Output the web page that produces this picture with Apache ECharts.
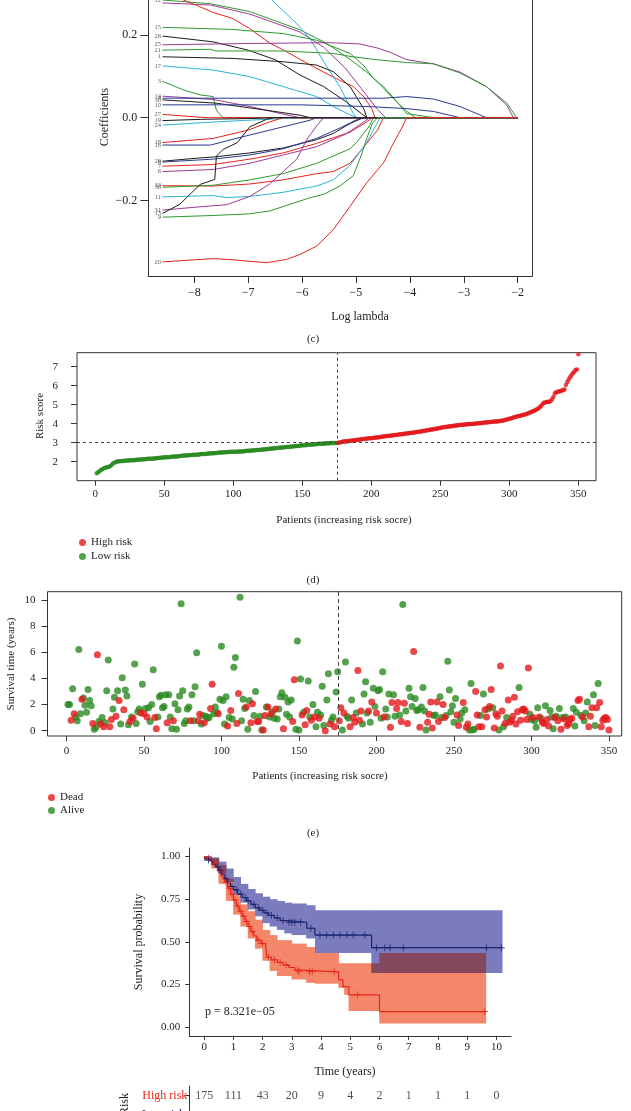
<!DOCTYPE html>
<html><head><meta charset="utf-8">
<script src="https://cdn.jsdelivr.net/npm/echarts@6/dist/echarts.min.js"></script>
<style>html,body{margin:0;padding:0;background:#fff}#c{width:631px;height:1111px}</style>
</head><body><div id="c"></div>
<script>
// ---------------- Panel (c): LASSO coefficient paths ----------------
const lassoLabels = ['12','','','','15','26','25','21','1','17','3','14','4','30','10','27','19','24','18','16','29','8','7','6','33','38','11','31','13','9','20'];
const lassoPaths = [
 [[-8.59,0.284],[-7.7,0.275],[-6.97,0.256],[-6.04,0.212],[-5.55,0.18],[-5.05,0.135],[-4.8,0.11],[-4.55,0.08],[-4.3,0.045],[-4.05,0.015],[-3.9,0]],
 [[-8.59,0.277],[-7.7,0.272],[-6.97,0.25],[-6.04,0.207],[-5.6,0.17],[-5.2,0.12],[-4.9,0.07],[-4.6,0.02],[-4.45,0]],
 [[-8.59,0.30],[-8.2,0.284],[-7.9,0.268],[-7.65,0.254],[-7.3,0.24],[-6.97,0.215],[-6.6,0.18],[-6.3,0.16],[-6.0,0.138],[-5.6,0.11],[-5.3,0.09],[-5.05,0.075],[-4.85,0.05],[-4.7,0.02],[-4.65,0]],
 [[-8.59,0.42],[-7.5,0.36],[-6.56,0.284],[-6.1,0.227],[-5.85,0.19],[-5.55,0.125],[-5.3,0.075],[-5.05,0.01],[-4.99,0]],
 [[-8.59,0.218],[-7.3,0.213],[-6.35,0.203],[-5.73,0.187],[-5.42,0.171],[-5.11,0.155],[-4.85,0.125],[-4.68,0.095],[-4.49,0.075],[-4.25,0.04],[-4.06,0.01],[-3.56,0]],
 [[-8.59,0.197],[-7.65,0.183],[-7.0,0.163],[-6.5,0.14],[-6.04,0.103],[-5.6,0.075],[-5.2,0.04],[-4.9,0.01],[-4.8,0]],
 [[-8.59,0.176],[-7.0,0.179],[-5.5,0.181],[-4.93,0.178],[-4.6,0.168],[-4.37,0.158],[-4.06,0.14],[-3.56,0.13],[-3.07,0.11],[-2.58,0.075],[-2.2,0.03],[-2.08,0]],
 [[-8.59,0.163],[-7.7,0.165],[-7.6,0.161],[-6.35,0.161],[-5.42,0.155],[-5.11,0.148],[-4.62,0.14],[-4.06,0.133],[-3.56,0.13],[-3.07,0.108],[-2.58,0.075],[-2.2,0.035],[-2.02,0]],
 [[-8.59,0.147],[-7.28,0.143],[-6.35,0.135],[-5.73,0.127],[-5.42,0.111],[-5.11,0.075],[-4.85,0.02],[-4.8,0]],
 [[-8.59,0.125],[-7.65,0.115],[-6.97,0.099],[-6.35,0.075],[-5.73,0.051],[-5.42,0.027],[-5.11,0.007],[-4.99,0]],
 [[-8.59,0.088],[-8.2,0.067],[-7.89,0.055],[-7.65,0.051],[-7.59,0.018],[-7.47,0]],
 [[-8.59,0.052],[-7.65,0.044],[-6.97,0.027],[-6.4,0.01],[-6.04,0]],
 [[-8.59,0.047],[-6.04,0.047],[-5.11,0.047],[-4.49,0.047],[-4.06,0.051],[-3.56,0.045],[-3.07,0.027],[-2.58,0]],
 [[-8.59,0.043],[-7.59,0.035],[-6.66,0.018],[-6.04,0.006],[-5.85,0]],
 [[-8.59,0.031],[-6.04,0.031],[-4.8,0.027],[-4.06,0.022],[-3.56,0.015],[-3.07,0]],
 [[-8.59,0.008],[-7.89,0.001],[-7.7,0]],
 [[-8.59,-0.007],[-7.89,-0.004],[-6.97,-0.002],[-6.53,0]],
 [[-8.59,-0.018],[-7.59,-0.010],[-6.66,-0.004],[-6.04,0]],
 [[-8.59,-0.060],[-7.65,-0.050],[-7.0,-0.030],[-6.6,-0.010],[-6.35,0]],
 [[-8.59,-0.066],[-7.7,-0.066],[-7.1,-0.046],[-6.35,-0.022],[-5.85,-0.006],[-5.73,0]],
 [[-8.59,-0.105],[-7.89,-0.097],[-7.65,-0.095],[-6.97,-0.085],[-6.35,-0.073],[-5.73,-0.053],[-5.42,-0.038],[-5.11,-0.014],[-4.86,0]],
 [[-8.59,-0.107],[-7.65,-0.10],[-6.97,-0.09],[-6.35,-0.075],[-5.73,-0.05],[-5.3,-0.025],[-4.99,-0.005],[-4.9,0]],
 [[-8.59,-0.117],[-7.65,-0.113],[-6.97,-0.1],[-6.35,-0.085],[-5.73,-0.062],[-5.11,-0.035],[-4.8,-0.01],[-4.7,0]],
 [[-8.59,-0.130],[-7.65,-0.125],[-6.97,-0.11],[-6.35,-0.09],[-5.73,-0.07],[-5.2,-0.04],[-4.85,-0.01],[-4.75,0]],
 [[-8.59,-0.164],[-7.65,-0.165],[-6.97,-0.16],[-6.35,-0.15],[-5.73,-0.135],[-5.42,-0.13],[-5.11,-0.11],[-4.85,-0.07],[-4.6,-0.03],[-4.49,0]],
 [[-8.59,-0.168],[-7.65,-0.163],[-6.97,-0.15],[-6.35,-0.135],[-5.73,-0.11],[-5.11,-0.075],[-4.99,-0.06],[-4.75,-0.02],[-4.68,0]],
 [[-8.59,-0.191],[-7.65,-0.188],[-7.4,-0.193],[-6.97,-0.19],[-6.35,-0.18],[-5.73,-0.165],[-5.42,-0.15],[-5.11,-0.115],[-4.8,-0.06],[-4.68,-0.03],[-4.55,0]],
 [[-8.59,-0.223],[-7.89,-0.215],[-7.4,-0.21],[-6.97,-0.19],[-6.6,-0.16],[-6.35,-0.13],[-6.1,-0.1],[-5.9,-0.05],[-5.73,-0.02],[-5.6,0]],
 [[-8.59,-0.231],[-8.27,-0.209],[-7.89,-0.161],[-7.62,-0.149],[-7.59,-0.093],[-7.47,-0.077],[-7.2,-0.060],[-6.97,-0.022],[-6.66,-0.004],[-6.53,0]],
 [[-8.59,-0.240],[-7.65,-0.236],[-6.97,-0.232],[-6.6,-0.225],[-6.2,-0.208],[-5.85,-0.193],[-5.6,-0.185],[-5.3,-0.165],[-5.05,-0.14],[-4.9,-0.09],[-4.8,-0.05],[-4.7,-0.015],[-4.6,0]],
 [[-8.59,-0.348],[-7.65,-0.340],[-7.28,-0.343],[-6.66,-0.35],[-6.29,-0.342],[-6.04,-0.33],[-5.73,-0.31],[-5.42,-0.27],[-5.11,-0.214],[-4.8,-0.157],[-4.49,-0.109],[-4.3,-0.06],[-4.15,-0.025],[-4.06,0]]
];
const lambdaMax = -2.0;
const lassoXTicks = [-8,-7,-6,-5,-4,-3,-2];
const lassoYTicks = [-0.2,0,0.2];

// ---------------- Panel (d): risk score ----------------
const riskScore = [
1.39,1.45,1.50,1.56,1.60,1.64,1.68,1.70,1.72,1.74,
1.78,1.85,1.92,1.96,1.99,2.01,2.02,2.03,2.04,2.04,
2.05,2.05,2.06,2.06,2.07,2.07,2.08,2.08,2.09,2.10,
2.10,2.11,2.12,2.12,2.13,2.13,2.14,2.15,2.15,2.16,
2.16,2.17,2.17,2.18,2.19,2.20,2.21,2.21,2.22,2.23,
2.23,2.24,2.24,2.25,2.26,2.26,2.27,2.28,2.28,2.29,
2.30,2.30,2.31,2.32,2.32,2.33,2.34,2.34,2.35,2.35,
2.36,2.36,2.37,2.37,2.38,2.39,2.40,2.40,2.41,2.41,
2.42,2.43,2.43,2.44,2.44,2.45,2.46,2.46,2.47,2.48,
2.49,2.49,2.50,2.50,2.50,2.51,2.51,2.52,2.52,2.52,
2.53,2.53,2.53,2.54,2.54,2.54,2.55,2.55,2.56,2.57,
2.57,2.58,2.59,2.59,2.60,2.60,2.61,2.62,2.62,2.63,
2.64,2.64,2.65,2.66,2.67,2.68,2.68,2.69,2.70,2.71,
2.72,2.72,2.73,2.74,2.75,2.75,2.76,2.77,2.78,2.78,
2.79,2.80,2.80,2.81,2.82,2.83,2.83,2.84,2.85,2.86,
2.86,2.87,2.88,2.88,2.89,2.90,2.90,2.91,2.92,2.92,
2.93,2.94,2.94,2.95,2.95,2.96,2.96,2.97,2.97,2.97,
2.98,2.98,2.98,2.99,2.99,3.00,3.01,3.03,3.05,3.06,
3.06,3.07,3.08,3.09,3.10,3.11,3.12,3.13,3.14,3.15,
3.16,3.17,3.18,3.19,3.20,3.21,3.22,3.23,3.23,3.24,
3.25,3.26,3.27,3.28,3.29,3.29,3.30,3.32,3.33,3.34,
3.35,3.35,3.36,3.37,3.38,3.39,3.40,3.41,3.42,3.43,
3.44,3.45,3.46,3.47,3.48,3.49,3.50,3.51,3.52,3.53,
3.54,3.55,3.56,3.57,3.58,3.59,3.61,3.62,3.63,3.65,
3.66,3.67,3.69,3.70,3.71,3.72,3.74,3.75,3.77,3.78,
3.80,3.81,3.82,3.83,3.84,3.85,3.86,3.87,3.88,3.89,
3.90,3.91,3.92,3.93,3.94,3.95,3.95,3.96,3.97,3.97,
3.98,3.98,3.99,4.00,4.00,4.01,4.02,4.03,4.03,4.04,
4.05,4.06,4.06,4.07,4.08,4.09,4.09,4.10,4.11,4.12,
4.12,4.13,4.14,4.15,4.16,4.18,4.20,4.22,4.24,4.26,
4.28,4.30,4.33,4.35,4.37,4.39,4.41,4.42,4.44,4.46,
4.48,4.50,4.53,4.56,4.59,4.62,4.65,4.68,4.72,4.76,
4.80,4.86,4.93,5.02,5.10,5.12,5.14,5.15,5.16,5.20,
5.30,5.42,5.60,5.65,5.68,5.70,5.72,5.74,5.77,5.80,
6.04,6.20,6.33,6.45,6.55,6.65,6.72,6.82,6.85,7.65];
const lowRiskCount = 175;
const riskCutScore = 2.995;
const patientTicks = [0,50,100,150,200,250,300,350];
const riskYTicks = [2,3,4,5,6,7];

// ---------------- Panel (e): survival time & status (1 = dead) ----------------
const survTime = [
2.0,2.0,0.8,3.2,1.3,1.05,0.75,6.2,1.3,2.4,
2.5,1.95,1.4,3.15,2.3,1.9,0.55,0.1,0.25,5.8,
0.7,0.5,1.0,0.3,0.6,3.05,5.4,0.3,0.85,1.65,
2.55,1.1,3.05,2.3,0.5,4.05,1.6,3.1,2.65,0.45,
0.7,1.05,0.95,5.1,0.55,1.45,1.65,1.35,3.55,1.3,
1.7,1.05,1.75,0.7,2.0,4.65,1.0,0.15,1.05,2.6,
2.7,1.75,1.85,2.75,0.6,2.75,1.05,0.15,0.75,2.05,
0.1,1.6,2.65,9.7,3.05,0.55,0.75,1.65,1.8,0.75,
2.75,0.75,3.35,5.95,0.75,1.25,0.5,1.15,0.6,1.1,
0.95,1.0,1.7,3.55,1.3,1.8,1.4,1.3,2.4,6.45,
2.3,0.5,2.6,0.35,1.0,1.55,0.9,4.85,5.6,0.55,
2.85,10.2,0.75,2.4,1.7,1.8,0.1,2.3,0.6,2.05,
1.15,3.0,0.7,0.7,1.1,0.05,0.05,1.15,1.8,1.8,
1.05,1.3,1.45,0.95,1.65,0.9,1.65,2.6,2.9,0.15,
2.55,1.25,2.2,1.05,2.35,0.7,3.9,0.1,6.85,0.05,
3.95,1.2,1.4,0.45,1.55,3.8,1.05,0.8,2.0,1.05,
0.3,1.4,0.95,1.2,3.4,0.4,0.0,2.35,4.35,0.5,
0.8,1.05,0.3,2.95,4.5,0.75,1.75,0.05,1.35,5.25,
1.1,0.95,0.3,2.35,1.0,0.65,1.35,4.6,0.8,1.5,
0.5,2.8,3.75,1.35,1.5,0.65,2.2,3.25,1.85,1.35,
3.05,3.15,0.95,4.5,1.05,1.65,1.05,2.8,0.25,2.15,
2.75,1.1,1.7,2.15,1.2,0.7,9.65,2.1,1.5,0.55,
3.25,2.6,1.85,6.05,2.45,1.55,1.6,0.25,1.8,3.3,
1.5,0.05,0.65,1.25,2.2,0.2,1.15,1.2,2.2,0.7,
2.6,1.0,2.0,1.0,1.15,5.3,3.1,1.45,1.9,0.65,
2.45,1.2,0.4,0.9,1.35,2.15,1.6,0.25,0.5,0.05,
3.6,0.05,0.1,3.0,1.2,0.3,1.15,0.3,2.8,1.6,
1.05,1.65,1.85,3.15,1.75,0.2,1.3,1.1,0.05,4.95,
1.5,0.3,0.55,1.0,2.35,0.65,0.8,1.1,2.55,0.5,
1.45,3.3,0.8,1.6,1.65,1.5,0.85,4.8,1.25,0.85,
1.0,0.75,0.25,1.75,1.05,0.95,0.65,0.55,1.9,0.85,
0.35,1.55,1.05,0.15,1.0,1.1,0.75,1.7,0.1,1.0,
0.9,1.05,0.4,0.55,0.85,0.95,1.7,0.35,1.4,2.3,
2.4,1.15,1.05,0.75,1.35,2.2,0.3,1.1,1.75,2.75,
0.4,1.75,3.6,2.15,0.3,0.8,0.95,1.0,0.85,0.05];
const survStatus = [
0,0,1,0,1,0,0,0,0,1, 0,0,0,0,0,0,1,0,0,1, 0,1,0,1,0,0,0,1,1,0, 0,1,0,1,0,0,1,0,0,0,
1,0,1,0,0,0,0,1,0,1, 0,1,0,0,0,0,1,1,0,0, 0,0,0,0,1,0,0,0,1,0, 0,0,0,0,0,0,0,0,0,1,
0,0,0,0,1,1,0,0,1,0, 0,0,1,1,0,0,0,1,0,0, 0,0,0,1,0,1,0,0,0,1, 1,0,0,0,0,1,0,0,1,1,
0,0,1,1,0,0,1,1,0,1, 0,1,0,0,1,0,0,0,0,1, 0,0,0,0,0,1,1,0,0,0, 0,1,0,1,1,0,0,1,0,1,
0,0,1,0,0,0,1,0,0,1, 0,0,1,0,0,1,1,0,1,0, 0,0,1,0,1,1,0,1,1,1, 0,0,0,0,1,0,1,0,0,1,
0,0,0,0,1,0,0,0,1,1, 0,0,1,1,0,1,0,1,0,1, 0,0,0,1,0,0,0,1,0,0, 0,0,1,1,1,1,0,0,1,1,
0,0,1,1,0,0,0,0,0,0, 0,1,1,0,0,1,0,1,1,0, 0,0,0,1,1,1,0,1,0,1, 1,0,1,1,0,1,1,1,0,1,
1,0,1,0,1,1,1,1,1,1, 1,0,1,1,1,1,1,1,0,0, 1,0,0,0,1,0,1,1,0,1, 1,0,0,0,1,0,1,0,1,0,
1,0,1,1,1,1,0,0,0,1, 1,0,1,0,0,0,1,1,1,0, 0,1,0,1,1,1,1,1,1,1];
const survYTicks = [0,2,4,6,8,10];
const survCutIndex = 175.5;

// ---------------- Panel (f): Kaplan-Meier ----------------
const kmHighT = [0,0.1,0.2,0.3,0.4,0.5,0.6,0.7,0.8,0.9,1.0,1.1,1.2,1.3,1.4,1.5,1.6,1.7,1.8,1.95,2.1,2.15,2.3,2.5,2.7,2.9,3.1,3.3,4.6,4.75,4.95,6.0];
const kmHighS = [1.0,0.99,0.975,0.96,0.94,0.915,0.885,0.85,0.815,0.78,0.745,0.71,0.68,0.65,0.62,0.59,0.56,0.535,0.51,0.49,0.475,0.41,0.395,0.38,0.365,0.35,0.335,0.325,0.278,0.238,0.19,0.092];
const kmHighEnd = 9.64;
const kmLowT = [0,0.1,0.2,0.3,0.4,0.5,0.6,0.7,0.8,0.9,1.0,1.15,1.3,1.45,1.6,1.75,1.9,2.05,2.2,2.4,2.6,2.85,3.51,3.79,5.73];
const kmLowS = [0.99,0.98,0.97,0.955,0.94,0.92,0.895,0.87,0.845,0.825,0.805,0.78,0.76,0.74,0.72,0.70,0.685,0.67,0.655,0.64,0.625,0.615,0.58,0.54,0.466];
const kmLowEnd = 10.2;
const ciHighT  = [0,0.25,0.5,0.75,1.0,1.25,1.5,1.75,2.0,2.25,2.5,3.0,3.5,3.8,4.6,4.8,4.95,6.0];
const ciHighLo = [0.985,0.93,0.84,0.74,0.66,0.59,0.52,0.46,0.39,0.33,0.30,0.28,0.26,0.255,0.23,0.19,0.095,0.022];
const ciHighUp = [1.0,0.99,0.95,0.87,0.775,0.72,0.68,0.63,0.57,0.54,0.51,0.49,0.47,0.435,0.375,0.375,0.375,0.435];
const ciLowT  = [0,0.25,0.5,0.75,1.0,1.25,1.5,1.75,2.0,2.25,2.5,2.75,3.0,3.5,3.8,5.73];
const ciLowLo = [0.975,0.95,0.90,0.85,0.775,0.73,0.69,0.65,0.61,0.59,0.57,0.55,0.54,0.52,0.435,0.318];
const ciLowUp = [1.0,0.995,0.97,0.93,0.88,0.84,0.81,0.785,0.765,0.75,0.74,0.73,0.725,0.715,0.685,0.685];
const censorHigh = [[0.15,0.99],[0.35,0.96],[0.55,0.915],[0.65,0.885],[0.75,0.85],[0.85,0.815],[0.95,0.78],[1.05,0.745],[1.15,0.71],[1.25,0.68],[1.35,0.65],[1.45,0.62],[1.55,0.59],[1.65,0.56],[1.85,0.51],[2.0,0.49],[2.2,0.41],[2.4,0.395],[2.6,0.38],[2.8,0.365],[3.2,0.335],[3.25,0.325],[3.6,0.325],[3.7,0.325],[4.45,0.325],[5.25,0.19],[9.6,0.092]];
const censorLow = [[0.15,0.98],[0.45,0.94],[0.55,0.92],[0.75,0.87],[0.95,0.825],[1.1,0.805],[1.25,0.78],[1.4,0.76],[1.5,0.74],[1.7,0.72],[1.85,0.70],[2.0,0.685],[2.15,0.67],[2.3,0.655],[2.5,0.64],[2.7,0.625],[2.9,0.615],[3.0,0.615],[3.1,0.615],[3.3,0.615],[3.65,0.58],[3.96,0.54],[4.19,0.54],[4.42,0.54],[4.65,0.54],[4.88,0.54],[5.1,0.54],[5.5,0.54],[5.9,0.466],[6.18,0.466],[6.36,0.466],[6.81,0.466],[9.66,0.466],[10.17,0.466]];
const kmYears = [0,1,2,3,4,5,6,7,8,9,10];
const kmYTicks = [0,0.25,0.5,0.75,1.0];
const riskTableHigh = [175,111,43,20,9,4,2,1,1,1,0];
const riskRowHigh = 1, riskRowLow = 0;
const pValueText = 'p = 8.321e\u221205';

// ---------------- styling ----------------
const SERIF = "'Liberation Serif','DejaVu Serif',serif";
const C_BLACK='#1c1c1c', C_RED='#e8231c', C_GREEN='#2e9a2e', C_NAVY='#2b3990', C_CYAN='#2ab4d9', C_PURPLE='#9e3a97';
const lassoColor = [C_GREEN,C_PURPLE,C_RED,C_CYAN,C_GREEN,C_BLACK,C_PURPLE,C_GREEN,C_BLACK,C_CYAN,C_GREEN,C_PURPLE,C_NAVY,C_BLACK,C_NAVY,C_RED,C_BLACK,C_CYAN,C_RED,C_NAVY,C_BLACK,C_NAVY,C_RED,C_PURPLE,C_RED,C_GREEN,C_CYAN,C_PURPLE,C_BLACK,C_GREEN,C_RED];
const PT_RED='#e3191c', PT_GREEN='#2b8a22';
const KM_RED='#e8281c', KM_NAVY='#1b2670', BAND_RED='#f4866a', BAND_BLUE='#7a7cbd', BAND_BOTH='#84485f';
const AX='#333';

const minus = s => String(s).replace('-', '\u2212');
function vAxis(grid, min, max, ticks, fmt, tickLen, margin, fs, extra) {
  return Object.assign({
    type:'value', gridIndex:grid, min:min, max:max, splitLine:{show:false},
    axisLine:{show:false, onZero:false},
    axisTick:{show:true, inside:false, length:tickLen, customValues:ticks, lineStyle:{color:AX,width:1}},
    axisLabel:{show:true, customValues:ticks, formatter:fmt, margin:margin, fontFamily:SERIF, fontSize:fs, color:'#222'}
  }, extra||{});
}
const LINE_ON = {axisLine:{show:true, onZero:false, lineStyle:{color:AX,width:1}}};

// panel c series
const series = [];
lassoPaths.forEach((p,k)=>{
  const d = p.slice();
  if (d[d.length-1][1] === 0 && d[d.length-1][0] < lambdaMax) d.push([lambdaMax,0]);
  series.push({type:'line', xAxisIndex:0, yAxisIndex:0, data:d, showSymbol:false, symbol:'none', silent:true,
    lineStyle:{color:lassoColor[k], width:1}, z:2});
});
series.push({type:'scatter', xAxisIndex:0, yAxisIndex:0, silent:true, symbolSize:1, itemStyle:{color:'rgba(0,0,0,0)'}, z:4,
  data: lassoPaths.map((p,k)=>({value:[p[0][0],p[0][1]], name:lassoLabels[k]})).filter(d=>d.name!==''),
  label:{show:true, position:'left', distance:1, formatter:p=>p.name, fontFamily:SERIF, fontSize:6.5, color:'#333'},
  labelLayout:{hideOverlap:false}});

// panel d
const lowPts = [], highPts = [];
riskScore.forEach((v,i)=>{ (i < lowRiskCount ? lowPts : highPts).push([i+1, v]); });
series.push({type:'scatter', name:'Low risk', xAxisIndex:1, yAxisIndex:1, data:lowPts, symbolSize:4.5, itemStyle:{color:PT_GREEN}, silent:true,
  markLine:{silent:true, symbol:'none', label:{show:false}, lineStyle:{type:[3,3], color:'#444', width:1},
    data:[{xAxis:lowRiskCount+0.5},{yAxis:riskCutScore}]}});
series.push({type:'scatter', name:'High risk', xAxisIndex:1, yAxisIndex:1, data:highPts, symbolSize:4.5, itemStyle:{color:PT_RED}, silent:true});

// panel e
const alivePts = [], deadPts = [];
survTime.forEach((v,i)=>{ (survStatus[i] === 1 ? deadPts : alivePts).push([i+1, v]); });
series.push({type:'scatter', name:'Alive', xAxisIndex:2, yAxisIndex:2, data:alivePts, symbolSize:7, itemStyle:{color:PT_GREEN}, silent:true,
  markLine:{silent:true, symbol:'none', label:{show:false}, lineStyle:{type:[4,3], color:'#444', width:1}, data:[{xAxis:survCutIndex}]}});
series.push({type:'scatter', name:'Dead', xAxisIndex:2, yAxisIndex:2, data:deadPts, symbolSize:7, itemStyle:{color:PT_RED}, silent:true});

// panel f: bands
function stepVal(T, V, end, t) {
  if (t >= end) return null;
  let v = null; for (let i=0;i<T.length;i++){ if (T[i] <= t) v = V[i]; else break; } return v;
}
function bandRects(T, lo, up, end) {
  return T.map((t,i)=>[t, i+1<T.length ? T[i+1] : end, lo[i], up[i]]);
}
function overlapRects() {
  const ts = Array.from(new Set([...ciHighT, ...ciLowT, kmHighEnd, kmLowEnd])).sort((a,b)=>a-b);
  const out = [];
  for (let i=0;i<ts.length-1;i++){
    const t = ts[i];
    const hl = stepVal(ciHighT, ciHighLo, kmHighEnd, t), hu = stepVal(ciHighT, ciHighUp, kmHighEnd, t);
    const ll = stepVal(ciLowT, ciLowLo, kmLowEnd, t), lu = stepVal(ciLowT, ciLowUp, kmLowEnd, t);
    if (hl===null || ll===null) continue;
    const a = Math.max(hl, ll), b = Math.min(hu, lu);
    if (b > a) out.push([t, ts[i+1], a, b]);
  }
  return out;
}
function rectSeries(data, color, z) {
  return {type:'custom', xAxisIndex:3, yAxisIndex:3, silent:true, z:z, data:data,
    encode:{x:[0,1], y:[2,3]},
    renderItem:(params, api)=>{
      const p0 = api.coord([api.value(0), api.value(3)]);
      const p1 = api.coord([api.value(1), api.value(2)]);
      return {type:'rect', shape:{x:p0[0]-0.3, y:p0[1], width:p1[0]-p0[0]+0.6, height:p1[1]-p0[1]}, style:{fill:color}};
    }};
}
series.push(rectSeries(bandRects(ciHighT, ciHighLo, ciHighUp, kmHighEnd), BAND_RED, 1));
series.push(rectSeries(bandRects(ciLowT, ciLowLo, ciLowUp, kmLowEnd), BAND_BLUE, 2));
series.push(rectSeries(overlapRects(), BAND_BOTH, 3));
function kmLine(T, S, end) { const d = T.map((t,i)=>[t,S[i]]); d.push([end, S[S.length-1]]); return d; }
series.push({type:'line', xAxisIndex:3, yAxisIndex:3, step:'end', data:kmLine(kmHighT,kmHighS,kmHighEnd), showSymbol:false, symbol:'none', silent:true, lineStyle:{color:KM_RED,width:1.2}, z:5});
series.push({type:'line', xAxisIndex:3, yAxisIndex:3, step:'end', data:kmLine(kmLowT,kmLowS,kmLowEnd), showSymbol:false, symbol:'none', silent:true, lineStyle:{color:KM_NAVY,width:1.2}, z:5});
const PLUS = 'path://M4.3,0H5.7V4.3H10V5.7H5.7V10H4.3V5.7H0V4.3H4.3Z';
series.push({type:'scatter', xAxisIndex:3, yAxisIndex:3, data:censorHigh, symbol:PLUS, symbolSize:7, itemStyle:{color:KM_RED}, silent:true, z:6});
series.push({type:'scatter', xAxisIndex:3, yAxisIndex:3, data:censorLow, symbol:PLUS, symbolSize:7, itemStyle:{color:KM_NAVY}, silent:true, z:6});
// risk table numbers
series.push({type:'scatter', xAxisIndex:4, yAxisIndex:4, silent:true, symbolSize:1, itemStyle:{color:'rgba(0,0,0,0)'}, z:4,
  data: kmYears.map((y,i)=>[y, riskRowHigh, riskTableHigh[i]]),
  label:{show:true, position:'inside', formatter:p=>String(p.value[2]), fontFamily:SERIF, fontSize:12, color:'#222'},
  labelLayout:{hideOverlap:false}});

function txt(x, y, text, opt) {
  opt = opt || {};
  return {type:'text', x:x, y:y, rotation:opt.rot||0, silent:true, z:50,
    style:{text:text, fontFamily:SERIF, fontSize:opt.fs||12, fill:opt.fill||'#222', align:opt.align||'center', verticalAlign:'middle'}};
}

const option = {
  animation:false,
  backgroundColor:'#fff',
  grid:[
    {left:148.3, top:0, width:384, height:276},
    {left:77, top:352.7, width:519, height:128, show:true, borderColor:AX, borderWidth:1},
    {left:47.5, top:591.7, width:574.2, height:144.3, show:true, borderColor:AX, borderWidth:1},
    {left:189.3, top:848, width:321.7, height:187.8},
    {left:189.3, top:1086, width:321.7, height:25}
  ],
  xAxis:[
    vAxis(0, -8.853, -1.729, lassoXTicks, v=>minus(v), 7, 11, 12, LINE_ON),
    vAxis(1, -13.3, 362.8, patientTicks, v=>String(v), 5, 8, 11),
    vAxis(2, -12.2, 358.2, patientTicks, v=>String(v), 5, 10, 11),
    vAxis(3, -0.51, 10.5, kmYears, v=>String(v), 4, 6, 11, LINE_ON),
    {type:'value', gridIndex:4, min:-0.51, max:10.5, show:false}
  ],
  yAxis:[
    vAxis(0, -0.382, 0.284, lassoYTicks, v=>minus(v.toFixed(1)), 8, 11, 12, LINE_ON),
    vAxis(1, 1.0, 7.737, riskYTicks, v=>String(v), 6, 19, 11),
    vAxis(2, -0.41, 10.63, survYTicks, v=>String(v), 6, 12, 11),
    vAxis(3, -0.05, 1.05, kmYTicks, v=>v.toFixed(2), 4, 9, 11, LINE_ON),
    vAxis(4, 0.186, 1.516, [riskRowHigh], ()=>'High risk', 4, 2, 12,
      {axisLine:{show:true, onZero:false, lineStyle:{color:AX,width:1}},
       axisLabel:{show:true, customValues:[riskRowHigh], formatter:()=>'High risk', margin:2, fontFamily:SERIF, fontSize:12, color:KM_RED}}),
    {type:'value', gridIndex:0, position:'right', min:-0.382, max:0.284, splitLine:{show:false},
     axisLine:{show:true, onZero:false, lineStyle:{color:AX,width:1}}, axisTick:{show:false}, axisLabel:{show:false}}
  ],
  legend:[
    {data:['High risk','Low risk'], orient:'vertical', left:74, top:532, icon:'circle', itemWidth:7, itemHeight:7, itemGap:3, selectedMode:false,
     textStyle:{fontFamily:SERIF, fontSize:11, color:'#222'}},
    {data:['Dead','Alive'], orient:'vertical', left:43, top:787, icon:'circle', itemWidth:7, itemHeight:7, itemGap:2, selectedMode:false,
     textStyle:{fontFamily:SERIF, fontSize:11, color:'#222'}}
  ],
  graphic:[
    txt(105, 117, 'Coefficients', {rot:Math.PI/2, fs:12}),
    txt(360, 317, 'Log lambda', {fs:12}),
    txt(313, 339, '(c)', {fs:11}),
    txt(40, 416, 'Risk score', {rot:Math.PI/2, fs:11}),
    txt(344, 520, 'Patients (increasing risk socre)', {fs:11}),
    txt(313, 580, '(d)', {fs:11}),
    txt(11, 664, 'Survival time (years)', {rot:Math.PI/2, fs:11}),
    txt(320, 776, 'Patients (increasing risk socre)', {fs:11}),
    txt(313, 833, '(e)', {fs:11}),
    txt(139, 942, 'Survival probability', {rot:Math.PI/2, fs:12}),
    txt(345, 1072, 'Time (years)', {fs:12}),
    txt(205, 1012, pValueText, {fs:12, align:'left'}),
    txt(125, 1104, 'Risk', {rot:Math.PI/2, fs:12}),
    txt(185, 1115, 'Low risk', {fs:12, align:'right', fill:KM_NAVY})
  ],
  series: series
};
const chart = echarts.init(document.getElementById('c'), null, {renderer:'canvas', width:631, height:1111});
chart.setOption(option);
</script></body></html>
